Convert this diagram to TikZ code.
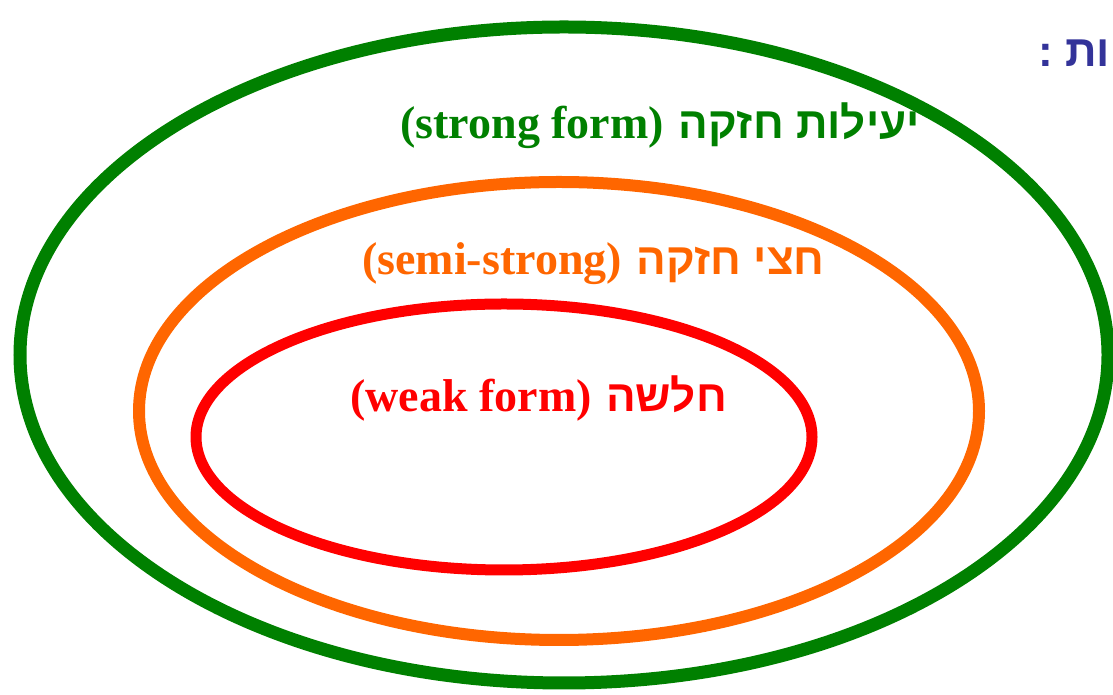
\documentclass[tikz,border=0pt]{standalone}
\usepackage{fontspec}
\setmainfont{Liberation Serif}
\newfontfamily\heb[Script=Hebrew]{Liberation Sans}
\TeXXeTstate=1
\definecolor{egreen}{HTML}{008000}
\definecolor{eorange}{HTML}{FF6600}
\definecolor{ered}{HTML}{FF0000}
\definecolor{eblue}{HTML}{333399}
\begin{document}
\begin{tikzpicture}[x=1pt,y=1pt,
  ring/.style={line width=#1},
  lat/.style={font=\fontsize{46}{50}\selectfont\bfseries, inner sep=0pt, anchor=base east},
  hb/.style={font=\heb\fontsize{44}{48}\selectfont\bfseries, inner sep=0pt, anchor=base east}]
\useasboundingbox (0,0) rectangle (1113,695);
\draw[ring=13, egreen] (564,340) ellipse [x radius=544, y radius=328];
\draw[ring=12, eorange] (559,284) ellipse [x radius=420, y radius=229];
\draw[ring=11, ered] (504,258) ellipse [x radius=308, y radius=133];
% green
\node[hb, text=egreen] (strongh) at (920,556) {\beginR יעילות חזקה\endR};
\node[lat, text=egreen] (strongl) at ([xshift=-14pt]strongh.base west) {(strong form)};
% orange
\node[hb, text=eorange] (semih) at (825,420) {\beginR חצי חזקה\endR};
\node[lat, text=eorange] (semil) at ([xshift=-14pt]semih.base west) {(semi-strong)};
% red
\node[hb, text=ered] (weakh) at (727,283) {\beginR חלשה\endR};
\node[lat, text=ered] (weakl) at ([xshift=-14pt]weakh.base west) {(weak form)};
% blue heading (cut off at the right edge)
\node[hb, text=eblue, anchor=base west] (title) at (1038,628) {\beginR ות :\endR};
\end{tikzpicture}
\end{document}
